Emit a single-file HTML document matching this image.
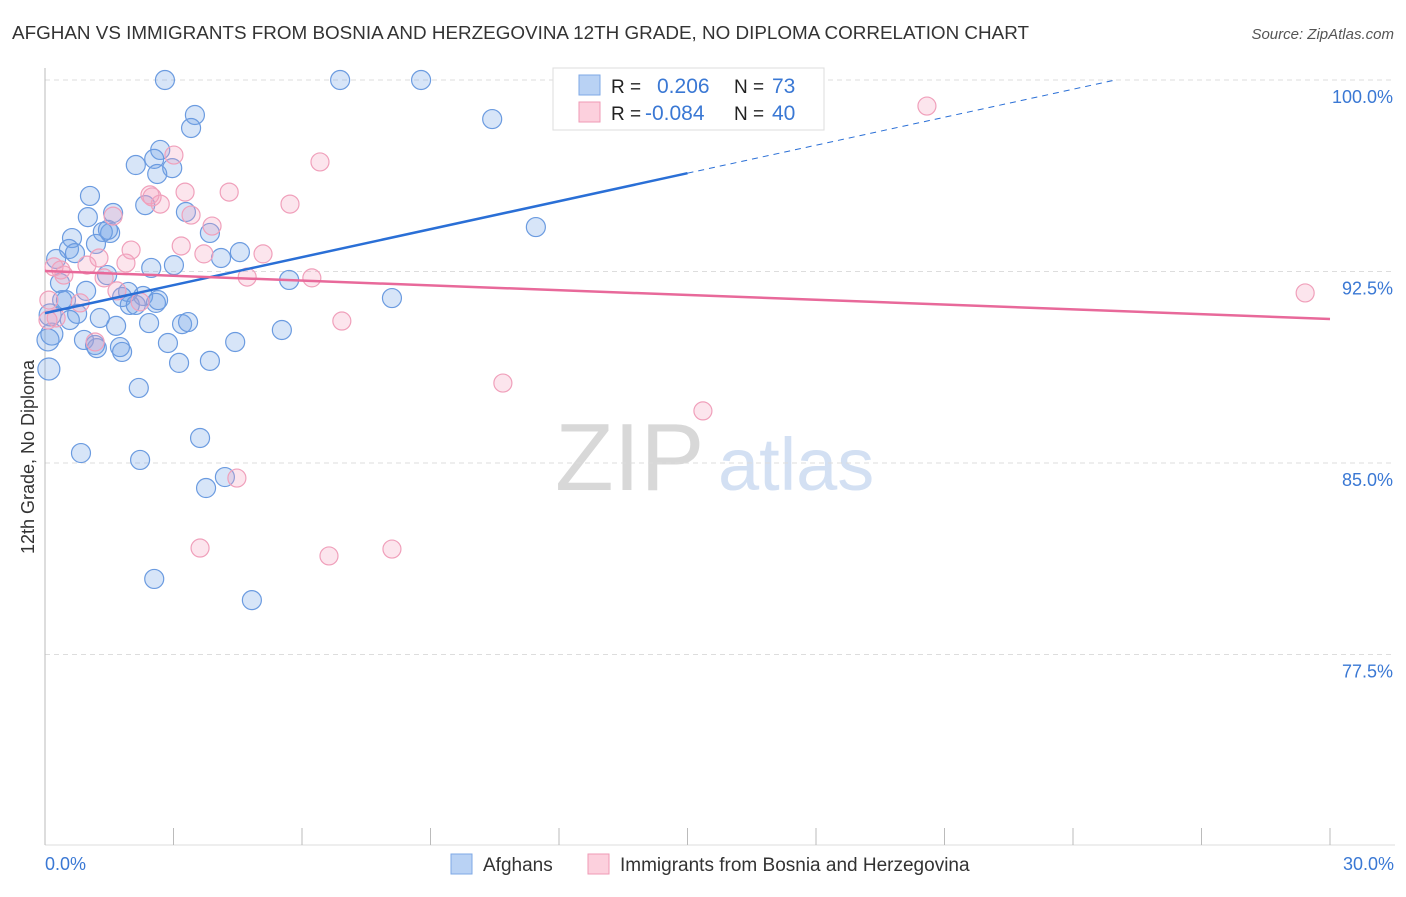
<!DOCTYPE html>
<html><head><meta charset="utf-8"><style>
body{margin:0;background:#fff;font-family:"Liberation Sans",sans-serif;}
svg text{font-family:"Liberation Sans",sans-serif;}
</style></head><body>
<svg id="chart" width="1406" height="892" viewBox="0 0 1406 892" xmlns="http://www.w3.org/2000/svg">
<text x="12" y="39" font-size="18" fill="#333" textLength="1017" lengthAdjust="spacingAndGlyphs">AFGHAN VS IMMIGRANTS FROM BOSNIA AND HERZEGOVINA 12TH GRADE, NO DIPLOMA CORRELATION CHART</text>
<text x="1394" y="39" font-size="15" fill="#555" text-anchor="end" font-style="italic">Source: ZipAtlas.com</text>
<g>
<text x="555" y="490" font-size="96" fill="#d8d8d8" font-family="Liberation Serif, serif">ZIP</text>
<text x="718" y="490" font-size="74" fill="#d3e0f3">atlas</text>
</g>
<g id="grid"></g>
<line x1="45" y1="68" x2="45" y2="845" stroke="#bbb"/>
<line x1="45" y1="845" x2="1395" y2="845" stroke="#ddd"/>
<g id="xticks"></g>
<text transform="translate(34,457) rotate(-90)" font-size="18" fill="#333" text-anchor="middle">12th Grade, No Diploma</text>
<g id="pts"></g>
<g id="lines"></g>
<g>
<rect x="553" y="68" width="271" height="62" fill="#fff" stroke="#ddd"/>
<rect x="579" y="75" width="21" height="20" fill="#b9d2f4" stroke="#7ea8e6"/>
<rect x="579" y="102" width="21" height="20" fill="#fcd0dd" stroke="#ef9ab5"/>
<text x="611" y="93" font-size="19" fill="#222">R =</text>
<text x="657" y="93" font-size="21" fill="#3a78d4">0.206</text>
<text x="734" y="93" font-size="19" fill="#222">N =</text>
<text x="772" y="93" font-size="21" fill="#3a78d4">73</text>
<text x="611" y="120" font-size="19" fill="#222">R =</text>
<text x="645" y="120" font-size="21" fill="#3a78d4">-0.084</text>
<text x="734" y="120" font-size="19" fill="#222">N =</text>
<text x="772" y="120" font-size="21" fill="#3a78d4">40</text>
</g>
<g>
<rect x="451" y="854" width="21" height="20" fill="#b9d2f4" stroke="#7ea8e6"/>
<text x="483" y="871" font-size="19" fill="#333">Afghans</text>
<rect x="588" y="854" width="21" height="20" fill="#fcd0dd" stroke="#ef9ab5"/>
<text x="620" y="871" font-size="19" fill="#333">Immigrants from Bosnia and Herzegovina</text>
</g>
<text x="45" y="870" font-size="18" fill="#3a78d4">0.0%</text>
<text x="1394" y="870" font-size="18" fill="#3a78d4" text-anchor="end">30.0%</text>
</svg>
<script>
const yTicks=[100,92.5,85,77.5];
const yTickLabels=["100.0%","92.5%","85.0%","77.5%"];
const xTickVals=[0,3,6,9,12,15,18,21,24,27,30];
const afghanX=[2.80,6.89,8.78,3.50,3.41,10.44,2.69,2.55,2.12,2.97,2.62,1.05,2.34,1.59,3.29,1.00,3.85,1.52,1.35,0.63,1.19,0.56,0.70,4.55,0.26,4.11,11.46,3.01,2.48,1.45,5.70,0.35,0.96,8.10,1.94,2.29,1.80,1.98,0.40,2.59,2.12,0.75,1.28,1.66,2.43,3.20,3.34,0.16,0.91,1.17,1.21,1.75,1.80,2.87,4.44,5.53,3.13,3.85,0.09,2.19,3.62,0.84,2.22,4.20,3.76,2.55,4.83,1.47,0.49,0.12,0.07,0.58,2.64];
const afghanY=[100,100,100,98.63,98.12,98.47,97.26,96.91,96.67,96.55,96.32,95.46,95.10,94.79,94.83,94.63,94.01,94.01,94.05,93.81,93.58,93.38,93.22,93.26,92.99,93.03,94.24,92.75,92.64,92.36,92.17,92.05,91.74,91.46,91.70,91.54,91.50,91.19,91.38,91.27,91.19,90.84,90.68,90.37,90.48,90.44,90.52,90.05,89.82,89.62,89.50,89.54,89.35,89.70,89.74,90.21,88.92,89.00,88.68,87.94,85.98,85.39,85.12,84.45,84.02,80.46,79.63,94.13,91.38,90.80,89.82,90.60,91.38];
const bosniaX=[3.01,6.42,20.59,2.45,3.27,4.30,2.69,3.41,1.59,5.72,3.90,3.18,2.01,3.71,5.09,1.26,1.89,0.37,0.98,0.21,1.38,4.72,6.23,0.09,0.82,1.68,0.26,6.93,1.17,29.42,10.69,15.36,4.48,3.62,6.63,8.10,2.22,2.50,0.07,0.44];
const bosniaY=[97.06,96.79,98.98,95.50,95.61,95.61,95.14,94.71,94.67,95.14,94.28,93.50,93.34,93.19,93.19,93.03,92.83,92.56,92.75,92.68,92.25,92.28,92.25,91.38,91.27,91.74,90.68,90.56,89.74,91.66,88.13,87.04,84.41,81.67,81.36,81.63,91.31,95.42,90.60,92.36];
const afghanTrend=[90.87,101.83];
const afghanSolidEnd=15.0;
const bosniaTrend=[92.52,90.64];

const NS="http://www.w3.org/2000/svg";
const sx=v=>45+v/30*1285;
const sy=v=>80+(100-v)/7.5*191.5;
function mk(tag,attrs,parent){const e=document.createElementNS(NS,tag);for(const k in attrs)e.setAttribute(k,attrs[k]);parent.appendChild(e);return e;}
const grid=document.getElementById('grid');
yTicks.forEach((t,i)=>{
  const l=mk('line',{x1:45,x2:1395,y1:sy(t),y2:sy(t),stroke:'#ddd','stroke-dasharray':'5,4'},grid);
  
  
  const tx=mk('text',{x:1393,y:sy(t)+23,'font-size':18,fill:'#3a78d4','text-anchor':'end'},grid);
  tx.textContent=yTickLabels[i];
  
  
});
const xt=document.getElementById('xticks');
xTickVals.forEach(v=>{
  const l=mk('line',{x1:sx(v),x2:sx(v),y1:828,y2:845,stroke:'#bbb'},xt);
  
  
});
const pts=document.getElementById('pts');
afghanX.forEach((x,i)=>{
  const c=mk('circle',{cx:sx(x),cy:sy(afghanY[i]),r:x<0.2?11:9.5,fill:'rgba(110,160,230,0.28)',stroke:'#6b9be0','stroke-width':1.2},pts);
  
  
});
bosniaX.forEach((x,i)=>{
  const c=mk('circle',{cx:sx(x),cy:sy(bosniaY[i]),r:9,fill:'rgba(245,160,190,0.28)',stroke:'#f0a0bb','stroke-width':1.2},pts);
  
  
});
const lines=document.getElementById('lines');
const ay=x=>afghanTrend[0]+(afghanTrend[1]-afghanTrend[0])*x/30;
const a1=mk('line',{x1:sx(0),y1:sy(ay(0)),x2:sx(afghanSolidEnd),y2:sy(ay(afghanSolidEnd)),stroke:'#2a6fd6','stroke-width':2.5},lines);


const a2=mk('line',{x1:sx(afghanSolidEnd),y1:sy(ay(afghanSolidEnd)),x2:sx(25),y2:sy(ay(25)),stroke:'#2a6fd6','stroke-width':1,'stroke-dasharray':'6,5'},lines);


const b1=mk('line',{x1:sx(0),y1:sy(bosniaTrend[0]),x2:sx(30),y2:sy(bosniaTrend[1]),stroke:'#e8699a','stroke-width':2.5},lines);


</script>
</body></html>
